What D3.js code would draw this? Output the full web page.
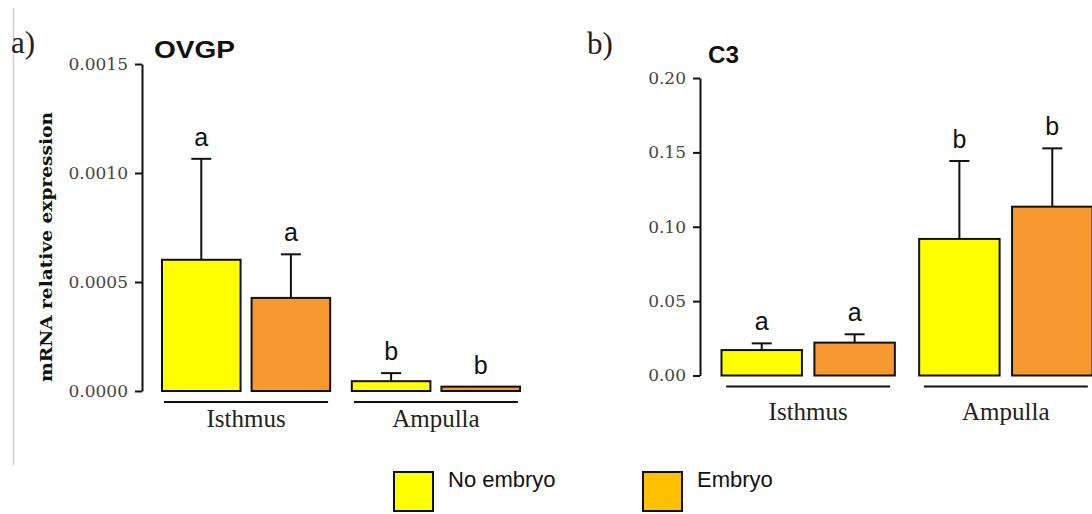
<!DOCTYPE html>
<html><head><meta charset="utf-8">
<script src="https://cdn.jsdelivr.net/npm/d3@7"></script>
<style>html,body{margin:0;padding:0;background:#fff;overflow:hidden}</style>
</head><body><svg id="chart" width="1092" height="514"></svg>
<script>
// ---------- data ----------
const groups = ["Isthmus", "Ampulla"];
const seriesNames = ["No embryo", "Embryo"];

const ovgpTicks = [0, 0.0005, 0.0010, 0.0015];
const ovgpNoEmbryo = [0.000602, 0.000045];
const ovgpNoEmbryoErr = [0.000463, 0.000037];
const ovgpEmbryo = [0.000427, 0.000020];
const ovgpEmbryoErr = [0.000200, 0.0];
const ovgpLettersNoEmbryo = ["a", "b"];
const ovgpLettersEmbryo = ["a", "b"];

const c3Ticks = [0, 0.05, 0.10, 0.15, 0.20];
const c3NoEmbryo = [0.0171, 0.0918];
const c3NoEmbryoErr = [0.0045, 0.0524];
const c3Embryo = [0.0221, 0.1135];
const c3EmbryoErr = [0.0056, 0.0392];
const c3LettersNoEmbryo = ["a", "b"];
const c3LettersEmbryo = ["a", "b"];

const barColors = ["#FFFF00", "#F7992F"];
const legendColors = ["#FFFF00", "#FFC000"];

// ---------- drawing ----------
const svg = d3.select("#chart");
svg.append("rect").attr("width", 1092).attr("height", 514).attr("fill", "#fff");

// thin grey frame line on the left
svg.append("line").attr("x1", 13.5).attr("x2", 13.5).attr("y1", 8).attr("y2", 465)
  .attr("stroke", "#d0d0d0").attr("stroke-width", 1.5);

function buildRows(means0, errs0, lets0, means1, errs1, lets1) {
  const rows = [];
  groups.forEach((g, i) => {
    rows.push({group: g, series: seriesNames[0], mean: means0[i], err: errs0[i], letter: lets0[i], ci: 0});
    rows.push({group: g, series: seriesNames[1], mean: means1[i], err: errs1[i], letter: lets1[i], ci: 1});
  });
  return rows;
}

function drawPanel(cfg) {
  const g = svg.append("g");
  const y = d3.scaleLinear().domain(cfg.domain).range(cfg.yRange);
  const x0 = d3.scaleBand().domain(groups).range(cfg.xRange).paddingInner(cfg.groupPad).paddingOuter(0);
  const x1 = d3.scaleBand().domain(seriesNames).range([0, x0.bandwidth()]).paddingInner(cfg.barPad).paddingOuter(0);

  // axis
  const axis = d3.axisLeft(y).tickValues(cfg.ticks).tickFormat(d3.format(cfg.fmt))
    .tickSizeInner(7).tickSizeOuter(0).tickPadding(7);
  const ag = g.append("g").attr("transform", `translate(${cfg.axisX},0)`).call(axis);
  ag.select(".domain").attr("stroke", "#111").attr("stroke-width", 2);
  ag.selectAll(".tick line").attr("stroke", "#111").attr("stroke-width", 2);
  ag.selectAll(".tick text").attr("font-family", "DejaVu Serif").attr("font-size", 17)
    .attr("fill", "#444");

  const rows = cfg.rows;
  const bx = d => x0(d.group) + x1(d.series);
  const bw = x1.bandwidth();

  // bars
  g.selectAll("rect.bar").data(rows).join("rect").attr("class", "bar")
    .attr("x", bx).attr("width", bw)
    .attr("y", d => y(d.mean)).attr("height", d => y(0) - y(d.mean))
    .attr("fill", d => barColors[d.ci]).attr("stroke", "#111").attr("stroke-width", 2);

  // error bars
  const eb = rows.filter(d => d.err > 0);
  g.selectAll("line.stem").data(eb).join("line").attr("class", "stem")
    .attr("x1", d => bx(d) + bw / 2).attr("x2", d => bx(d) + bw / 2)
    .attr("y1", d => y(d.mean)).attr("y2", d => y(d.mean + d.err))
    .attr("stroke", "#111").attr("stroke-width", 2);
  g.selectAll("line.cap").data(eb).join("line").attr("class", "cap")
    .attr("x1", d => bx(d) + bw / 2 - 10).attr("x2", d => bx(d) + bw / 2 + 10)
    .attr("y1", d => y(d.mean + d.err)).attr("y2", d => y(d.mean + d.err))
    .attr("stroke", "#111").attr("stroke-width", 2);

  // significance letters
  g.selectAll("text.sig").data(rows).join("text").attr("class", "sig")
    .attr("x", d => bx(d) + bw / 2).attr("y", d => y(d.mean + d.err) - 13)
    .attr("text-anchor", "middle").attr("font-family", "Liberation Sans, Arial")
    .attr("font-size", 25).attr("fill", "#111").text(d => d.letter);

  // group underlines and labels
  const base = y(0);
  g.selectAll("line.grp").data(groups).join("line").attr("class", "grp")
    .attr("x1", d => x0(d) + x0.bandwidth() / 2 - 82).attr("x2", d => x0(d) + x0.bandwidth() / 2 + 82)
    .attr("y1", base + 11).attr("y2", base + 11).attr("stroke", "#111").attr("stroke-width", 2);
  g.selectAll("text.grp").data(groups).join("text").attr("class", "grp")
    .attr("x", d => x0(d) + x0.bandwidth() / 2).attr("y", base + cfg.labelOffset)
    .attr("text-anchor", "middle").attr("font-family", "Liberation Serif")
    .attr("font-size", 25).attr("fill", "#222").text(d => d);

  // panel tag and title
  g.append("text").attr("x", cfg.tagX).attr("y", cfg.tagY).attr("font-family", "Liberation Serif")
    .attr("font-size", 31).attr("fill", "#222").text(cfg.tag);
  g.append("text").attr("x", cfg.titleX).attr("y", cfg.titleY).attr("font-family", "Liberation Sans, Arial")
    .attr("font-weight", "bold").attr("font-size", 24).attr("fill", "#111")
    .attr("textLength", cfg.titleLen).attr("lengthAdjust", "spacingAndGlyphs").text(cfg.title);
}

drawPanel({
  rows: buildRows(ovgpNoEmbryo, ovgpNoEmbryoErr, ovgpLettersNoEmbryo, ovgpEmbryo, ovgpEmbryoErr, ovgpLettersEmbryo),
  domain: [0, 0.0015], ticks: ovgpTicks, fmt: ".4f",
  yRange: [391, 64], xRange: [162, 520], groupPad: 0.114, barPad: 0.123, axisX: 142,
  labelOffset: 36, tag: "a)", tagX: 11, tagY: 53, title: "OVGP", titleX: 154, titleY: 58, titleLen: 81
});

drawPanel({
  rows: buildRows(c3NoEmbryo, c3NoEmbryoErr, c3LettersNoEmbryo, c3Embryo, c3EmbryoErr, c3LettersEmbryo),
  domain: [0, 0.20], ticks: c3Ticks, fmt: ".2f",
  yRange: [375.5, 78], xRange: [721.5, 1092.5], groupPad: 0.123, barPad: 0.134, axisX: 700,
  labelOffset: 44, tag: "b)", tagX: 587, tagY: 54, title: "C3", titleX: 708, titleY: 63, titleLen: 31
});

// y-axis title (panel a)
svg.append("text").attr("transform", "translate(52,247) rotate(-90)")
  .attr("text-anchor", "middle").attr("font-family", "DejaVu Serif").attr("font-weight", "bold")
  .attr("font-size", 17).attr("fill", "#111")
  .attr("textLength", 270).attr("lengthAdjust", "spacingAndGlyphs")
  .text("mRNA relative expression");

// legend
const lg = svg.append("g");
const legendX = [394, 643];
seriesNames.forEach((s, i) => {
  lg.append("rect").attr("x", legendX[i]).attr("y", 472).attr("width", 39).attr("height", 39)
    .attr("fill", legendColors[i]).attr("stroke", "#111").attr("stroke-width", 2);
  lg.append("text").attr("x", legendX[i] + 54).attr("y", 487)
    .attr("font-family", "Liberation Sans, Arial").attr("font-size", 22).attr("fill", "#111").text(s);
});
</script>
</body></html>
